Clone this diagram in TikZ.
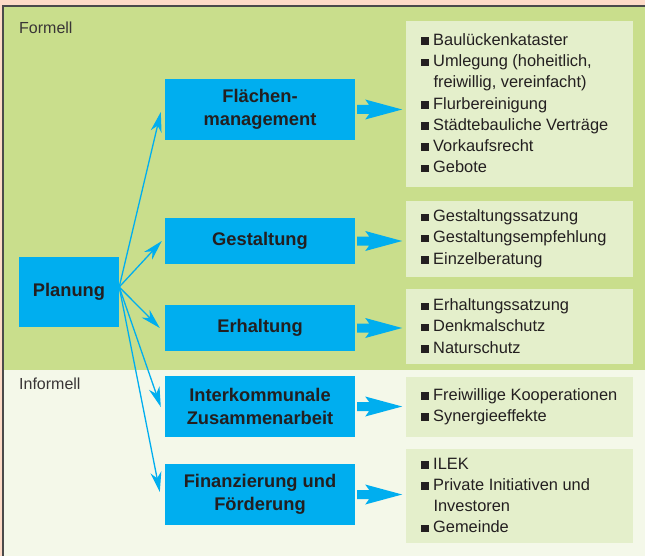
\documentclass[tikz,border=0pt]{standalone}
\usepackage{fontspec}
\setmainfont{Liberation Sans}
\usetikzlibrary{arrows.meta,calc}
\definecolor{peach}{HTML}{FDDBC7}
\definecolor{formgreen}{HTML}{C9DE8C}
\definecolor{infgreen}{HTML}{F4F8E9}
\definecolor{listgreen}{HTML}{E4EFCB}
\definecolor{cyanblue}{HTML}{00AEEF}
\definecolor{txt}{HTML}{231F20}
\definecolor{frame}{HTML}{4A4A4A}
\newcommand\bul{\rule[0.5pt]{7.5pt}{7.5pt}\hspace{4.5pt}}
\tikzset{
  bluebox/.style={fill=cyanblue, inner sep=0pt, minimum width=190pt, text=txt,
    font=\fontsize{18.3}{23.5}\selectfont\bfseries, align=center},
  listbox/.style={fill=listgreen, inner sep=0pt, minimum width=227pt},
  item/.style={anchor=base west, inner sep=0pt, text=txt, font=\fontsize{16.4}{21}\selectfont},
  region/.style={anchor=base west, inner sep=0pt, text=txt!90, font=\fontsize{16}{20}\selectfont},
  thin/.style={draw=cyanblue, line width=1.3pt, -{Stealth[length=20pt,width=11pt,inset=6pt]}},
}
\newcommand\fatarrow[1]{\fill[cyanblue] ([xshift=2pt]#1.east) ++(0,-4.5) -- ++(12,0) -- ++(-4,-5.5) -- ++(37,10) -- ++(-37,10) -- ++(4,-5.5) -- ++(-12,0) -- cycle;}
\begin{document}
\begin{tikzpicture}[x=1pt,y=-1pt]
\useasboundingbox (0,0) rectangle (645,556);
% backgrounds
\fill[peach] (0,0) rectangle (645,556);
\fill[formgreen] (3,6) rectangle (645,370);
\fill[infgreen] (3,370) rectangle (645,556);
\draw[frame, line width=1.2pt] (3,556) -- (3,6) -- (645,6);
% region labels
\node[region] (formell) at (19,33.5) {Formell};
\node[region] (informell) at (19,389.5) {Informell};
% central node
\node[bluebox, minimum width=100pt, minimum height=70pt] (P) at (69,292) {Planung};
% blue boxes
\node[bluebox, minimum height=61pt] (F) at (260,109.5) {Flächen-\\management};
\node[bluebox, minimum height=46pt] (G) at (260,241) {Gestaltung};
\node[bluebox, minimum height=46pt] (E) at (260,328) {Erhaltung};
\node[bluebox, minimum height=61pt] (I) at (260,406.5) {Interkommunale\\Zusammenarbeit};
\node[bluebox, minimum height=61pt] (Fi) at (260,494.5) {Finanzierung und\\Förderung};
% list boxes
\node[listbox, minimum height=166pt] (R1) at (519.5,104) {};
\node[listbox, minimum height=76pt] (R2) at (519.5,239) {};
\node[listbox, minimum height=75pt] (R3) at (519.5,326.5) {};
\node[listbox, minimum height=60pt] (R4) at (519.5,407) {};
\node[listbox, minimum height=94pt] (R5) at (519.5,496) {};
% list texts
\node[item] (r1a) at (421,45.5) {\bul Baulückenkataster};
\node[item] (r1b) at (421,66.7) {\bul Umlegung (hoheitlich,};
\node[item] (r1c) at (433.3,87.9) {freiwillig, vereinfacht)};
\node[item] (r1d) at (421,109.1) {\bul Flurbereinigung};
\node[item] (r1e) at (421,130.3) {\bul Städtebauliche Verträge};
\node[item] (r1f) at (421,151.5) {\bul Vorkaufsrecht};
\node[item] (r1g) at (421,172.7) {\bul Gebote};
\node[item] (r2a) at (421,221.7) {\bul Gestaltungssatzung};
\node[item] (r2b) at (421,242.9) {\bul Gestaltungsempfehlung};
\node[item] (r2c) at (421,264.1) {\bul Einzelberatung};
\node[item] (r3a) at (421,310.7) {\bul Erhaltungssatzung};
\node[item] (r3b) at (421,331.9) {\bul Denkmalschutz};
\node[item] (r3c) at (421,353.1) {\bul Naturschutz};
\node[item] (r4a) at (421,400) {\bul Freiwillige Kooperationen};
\node[item] (r4b) at (421,421.2) {\bul Synergieeffekte};
\node[item] (r5a) at (421,469) {\bul ILEK};
\node[item] (r5b) at (421,490.2) {\bul Private Initiativen und};
\node[item] (r5c) at (433.3,511.4) {Investoren};
\node[item] (r5d) at (421,532.6) {\bul Gemeinde};
% thin arrows
\coordinate (O) at ($(P.east)+(0,-5)$);
\coordinate (tF) at ($(F.west)+(-4,2.5)$);
\coordinate (tG) at ($(G.west)+(-3,0)$);
\coordinate (tE) at ($(E.west)+(-5,0)$);
\coordinate (tI) at ($(I.west)+(-4,0.5)$);
\coordinate (tFi) at ($(Fi.west)+(-5,-2.5)$);
\draw[thin] (O) -- (tF);
\draw[thin] (O) -- (tG);
\draw[thin] (O) -- (tE);
\draw[thin] (O) -- (tI);
\draw[thin] (O) -- (tFi);
% fat arrows
\fatarrow{F}
\fatarrow{G}
\fatarrow{E}
\fatarrow{I}
\fatarrow{Fi}
\end{tikzpicture}
\end{document}
